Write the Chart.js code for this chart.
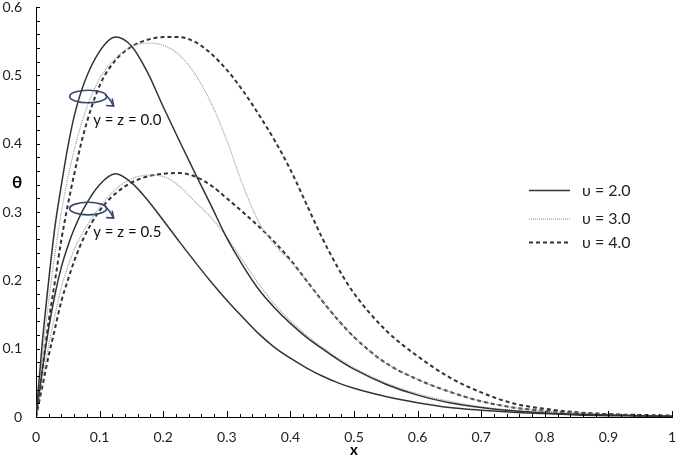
<!DOCTYPE html>
<html>
<head>
<meta charset="utf-8">
<script src="https://cdn.jsdelivr.net/npm/chart.js@4/dist/chart.umd.min.js"></script>
<style>
  html, body { margin: 0; padding: 0; background: #fff; }
  #wrap { width: 685px; height: 457px; }
</style>
</head>
<body>
<div id="wrap"><canvas id="c" width="685" height="457"></canvas></div>
<script>
// ---- data ----
const xs = [0,0.01,0.02,0.03,0.04,0.05,0.06,0.075,0.1,0.125,0.15,0.175,0.2,0.225,0.25,0.275,0.3,0.325,0.35,0.375,0.4,0.425,0.45,0.475,0.5,0.55,0.6,0.65,0.7,0.75,0.8,0.85,0.9,0.95,1];

// y = z = 0.0
const u2_yz00 = [0,0.11,0.2,0.28,0.34,0.395,0.44,0.487,0.535,0.556,0.543,0.505,0.454,0.405,0.357,0.31,0.262,0.222,0.187,0.16,0.137,0.117,0.1,0.084,0.07,0.048,0.032,0.021,0.014,0.009,0.006,0.004,0.003,0.002,0.001];
const u3_yz00 = [0,0.09,0.17,0.24,0.3,0.35,0.39,0.44,0.495,0.525,0.542,0.547,0.544,0.53,0.502,0.46,0.405,0.34,0.286,0.252,0.228,0.2,0.17,0.142,0.117,0.079,0.055,0.037,0.023,0.014,0.009,0.006,0.004,0.002,0.001];
const u4_yz00 = [0,0.07,0.14,0.2,0.26,0.31,0.355,0.415,0.485,0.522,0.542,0.552,0.556,0.556,0.549,0.532,0.508,0.478,0.443,0.405,0.362,0.312,0.262,0.218,0.181,0.127,0.089,0.058,0.036,0.02,0.012,0.007,0.004,0.003,0.002];

// y = z = 0.5
const u2_yz05 = [0,0.07,0.13,0.18,0.22,0.25,0.275,0.305,0.34,0.356,0.343,0.318,0.288,0.257,0.227,0.198,0.171,0.146,0.122,0.102,0.086,0.072,0.06,0.05,0.042,0.03,0.021,0.014,0.01,0.007,0.005,0.003,0.002,0.0015,0.001];
const u3_yz05 = [0,0.055,0.105,0.15,0.19,0.22,0.245,0.272,0.307,0.333,0.348,0.354,0.352,0.338,0.315,0.292,0.263,0.229,0.195,0.165,0.141,0.12,0.102,0.086,0.072,0.05,0.034,0.023,0.015,0.01,0.0065,0.004,0.003,0.002,0.001];
const u4_yz05 = [0,0.045,0.09,0.13,0.17,0.2,0.228,0.262,0.302,0.327,0.343,0.352,0.356,0.357,0.352,0.339,0.32,0.3,0.279,0.256,0.23,0.2,0.17,0.142,0.117,0.079,0.055,0.037,0.023,0.014,0.009,0.006,0.004,0.002,0.001];

const legendLabels = ['\u03C5 = 2.0', '\u03C5 = 3.0', '\u03C5 = 4.0'];
const groupLabels = ['y = z = 0.0', 'y = z = 0.5'];
const xTicks = [0,0.1,0.2,0.3,0.4,0.5,0.6,0.7,0.8,0.9,1];
const yTicks = [0,0.1,0.2,0.3,0.4,0.5,0.6];

// ---- styles ----
const styles = [
  { borderColor: '#333333', borderWidth: 1.5, borderDash: [] },
  { borderColor: '#9a9a9a', borderWidth: 1.2, borderDash: [1, 1] },
  { borderColor: '#333333', borderWidth: 2, borderDash: [4, 3] }
];
const FONT = 'Lato, "Liberation Sans", sans-serif';

function pts(arr) { return xs.map((x, i) => ({ x: x, y: arr[i] })); }
const series = [
  [u2_yz00, 0], [u3_yz00, 1], [u4_yz00, 2],
  [u2_yz05, 0], [u3_yz05, 1], [u4_yz05, 2]
];
const datasets = series.map(([arr, s], i) => Object.assign({
  label: legendLabels[s] + (i < 3 ? ' (' + groupLabels[0] + ')' : ' (' + groupLabels[1] + ')'),
  data: pts(arr),
  showLine: true,
  pointRadius: 0,
  fill: false,
  cubicInterpolationMode: 'monotone'
}, styles[s]));

const decor = {
  id: 'decor',
  afterDraw(chart) {
    const ctx = chart.ctx;
    const xs_ = chart.scales.x, ys_ = chart.scales.y;
    const a = chart.chartArea;
    ctx.save();
    // inward minor / major ticks
    ctx.strokeStyle = '#000';
    ctx.lineWidth = 1;
    for (let k = 0; k <= 50; k++) {
      const v = k * 0.02;
      const px = Math.round(xs_.getPixelForValue(v)) + 0.5;
      const len = (k % 5 === 0) ? 6 : 3;
      ctx.beginPath(); ctx.moveTo(px, a.bottom); ctx.lineTo(px, a.bottom - len); ctx.stroke();
    }
    for (let k = 0; k <= 30; k++) {
      const v = k * 0.02;
      const py = Math.round(ys_.getPixelForValue(v)) + 0.5;
      ctx.beginPath(); ctx.moveTo(a.left, py); ctx.lineTo(a.left + 4, py); ctx.stroke();
    }
    // axis titles
    ctx.fillStyle = '#000';
    ctx.textAlign = 'center';
    ctx.textBaseline = 'middle';
    ctx.font = 'bold 17px ' + FONT;
    ctx.fillText('\u03B8', 17, ys_.getPixelForValue(0.343));
    ctx.font = 'bold 15px ' + FONT;
    ctx.fillText('x', xs_.getPixelForValue(0.5), 450);

    // legend
    const lx0 = 529, lx1 = 570, tx = 582;
    const ly = [190.5, 219, 242.5];
    for (let s = 0; s < 3; s++) {
      ctx.beginPath();
      ctx.strokeStyle = styles[s].borderColor;
      ctx.lineWidth = styles[s].borderWidth;
      ctx.setLineDash(styles[s].borderDash);
      ctx.moveTo(lx0, ly[s]); ctx.lineTo(lx1, ly[s]); ctx.stroke();
      ctx.setLineDash([]);
      ctx.fillStyle = '#222';
      ctx.font = '16px ' + FONT;
      ctx.textAlign = 'left';
      ctx.fillText(legendLabels[s], tx, ly[s]);
    }

    // group annotations (ellipse + arrow + label)
    const anns = [
      { x: 0.082, y: 0.469, label: groupLabels[0] },
      { x: 0.082, y: 0.305, label: groupLabels[1] }
    ];
    anns.forEach(an => {
      const cx = xs_.getPixelForValue(an.x), cy = ys_.getPixelForValue(an.y);
      ctx.strokeStyle = '#34496f';
      ctx.lineWidth = 1.6;
      ctx.beginPath();
      ctx.ellipse(cx, cy, 18.5, 6.3, 0, 0, Math.PI * 2);
      ctx.stroke();
      // arrow
      ctx.beginPath();
      ctx.moveTo(cx + 17, cy - 2);
      ctx.quadraticCurveTo(cx + 22, cy + 2, cx + 25, cy + 9);
      ctx.stroke();
      ctx.beginPath();
      ctx.moveTo(cx + 18, cy + 9);
      ctx.lineTo(cx + 25.5, cy + 9.5);
      ctx.lineTo(cx + 24, cy + 2);
      ctx.stroke();
      ctx.fillStyle = '#111';
      ctx.font = '15px ' + FONT;
      ctx.textAlign = 'left';
      ctx.textBaseline = 'middle';
      ctx.fillText(an.label, cx + 5, cy + 24);
    });
    ctx.restore();
  }
};

const tickFmt = v => (Math.abs(v) < 1e-9 ? '0' : (Math.abs(v - 1) < 1e-9 ? '1' : v.toFixed(1)));

new Chart(document.getElementById('c'), {
  type: 'scatter',
  data: { datasets: datasets },
  options: {
    responsive: false,
    devicePixelRatio: 1,
    animation: false,
    layout: { padding: { top: 7, right: 13, left: 0, bottom: 0 } },
    plugins: { legend: { display: false }, tooltip: { enabled: false } },
    scales: {
      x: {
        type: 'linear', min: 0, max: 1,
        afterBuildTicks: s => { s.ticks = xTicks.map(v => ({ value: v })); },
        afterFit: s => { s.height = 40; s.paddingLeft = 0; s.paddingRight = 0; },
        grid: { display: false, drawTicks: false, tickLength: 0 },
        border: { display: true, color: '#000', width: 1 },
        ticks: { callback: tickFmt, color: '#222', font: { family: FONT, size: 14 }, padding: 12, maxRotation: 0, autoSkip: false }
      },
      y: {
        type: 'linear', min: 0, max: 0.6,
        afterBuildTicks: s => { s.ticks = yTicks.map(v => ({ value: v })); },
        afterFit: s => { s.width = 36; s.paddingTop = 0; s.paddingBottom = 0; },
        grid: { display: false, drawTicks: false, tickLength: 0 },
        border: { display: true, color: '#000', width: 1 },
        ticks: { callback: tickFmt, color: '#222', font: { family: FONT, size: 14 }, padding: 14, autoSkip: false }
      }
    }
  },
  plugins: [decor]
});
</script>
</body>
</html>
